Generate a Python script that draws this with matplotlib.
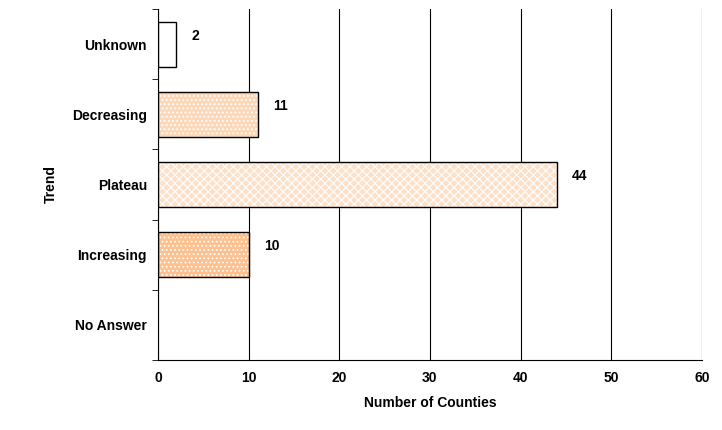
import matplotlib.pyplot as plt

trends = ['No Answer', 'Increasing', 'Plateau', 'Decreasing', 'Unknown']
counts = [0, 10, 44, 11, 2]
faces = ['white', '#FDC08E', '#FDE0C8', '#FDD8B8', 'white']
hatches = ['', '....', 'xxxx', '....', '']

plt.rcParams['font.family'] = ['Liberation Sans', 'DejaVu Sans']
plt.rcParams['hatch.linewidth'] = 0.8
fig = plt.figure(figsize=(7.22, 4.30), dpi=100)
ax = fig.add_axes([0.219, 0.163, 0.753, 0.816])

ypos = range(len(trends))
for y, c, f, h in zip(ypos, counts, faces, hatches):
    if c == 0:
        continue
    ax.barh(y, c, height=0.64, color=f, hatch=h, edgecolor='white', linewidth=0, zorder=2)
    ax.barh(y, c, height=0.64, fill=False, edgecolor='black', linewidth=1, zorder=3)
    ax.text(c + 1.7, y + 0.12, str(c), va='center', ha='left', fontsize=10, fontweight='bold')

ax.set_xlim(0, 60)
ax.set_ylim(-0.5, 4.5)
ax.set_xticks(range(0, 61, 10))
ax.set_yticks(list(ypos))
ax.set_yticklabels(trends, fontweight='bold', fontsize=10)
ax.tick_params(axis='x', labelsize=10, length=0, pad=8)
for lbl in ax.get_xticklabels():
    lbl.set_fontweight('bold')
ax.set_yticks([-0.5, 0.5, 1.5, 2.5, 3.5, 4.5], minor=True)
ax.tick_params(axis='y', which='major', length=0, pad=8)
ax.tick_params(axis='y', which='minor', length=4)
ax.grid(axis='x', color='black', linewidth=0.8, zorder=0)
ax.set_axisbelow(True)
for s in ['top', 'right']:
    ax.spines[s].set_visible(False)
ax.set_xlabel('Number of Counties', fontweight='bold', fontsize=10, labelpad=8)
ax.set_ylabel('Trend', fontweight='bold', fontsize=10, labelpad=10)

fig.savefig('out.png', dpi=100)
